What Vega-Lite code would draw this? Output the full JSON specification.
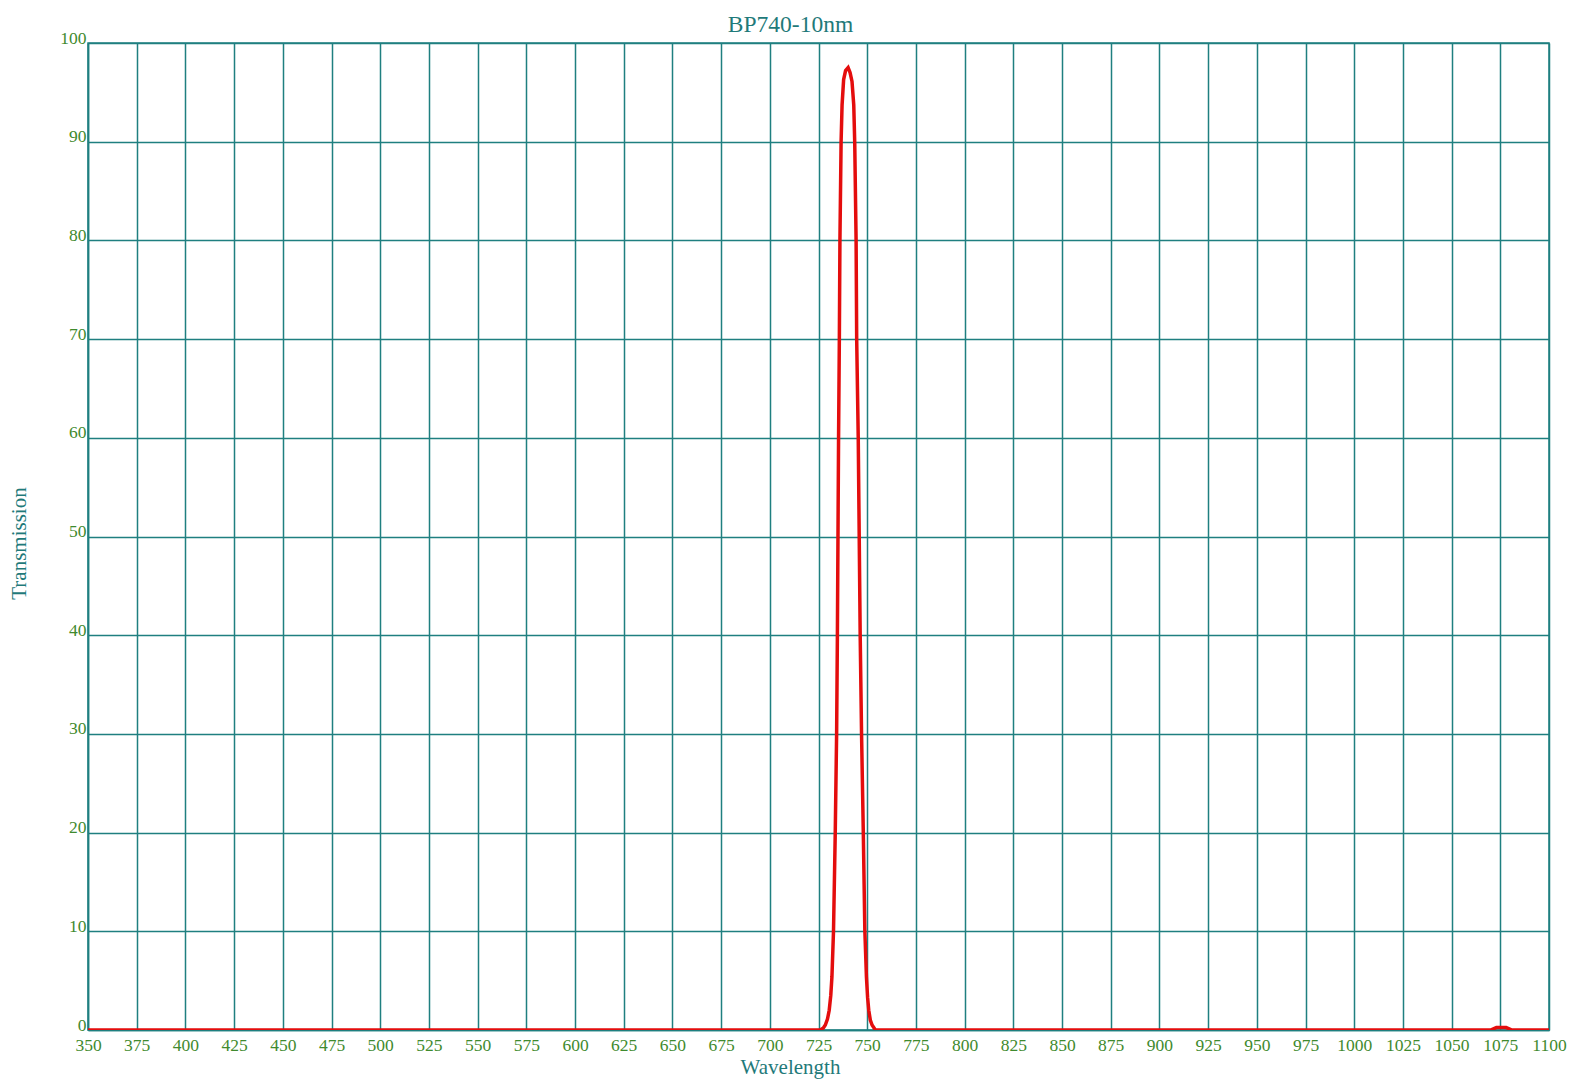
{
  "$schema": "https://vega.github.io/schema/vega-lite/v6.json",
  "width": 1461,
  "height": 987,
  "autosize": {"type": "none"},
  "padding": {"left": 88, "top": 43, "right": 35, "bottom": 58},
  "background": "white",
  "config": {
    "font": "Liberation Serif",
    "view": {"stroke": "#1f7f80", "strokeWidth": 1.5}
  },
  "title": {
    "text": "BP740-10nm",
    "fontSize": 23.5,
    "fontWeight": "normal",
    "color": "#1f7a7a",
    "font": "Liberation Serif",
    "dx": -28,
    "offset": -7
  },
  "data": {
    "values": [
      {"wl": 350, "t": 0}, {"wl": 375, "t": 0}, {"wl": 400, "t": 0}, {"wl": 425, "t": 0},
      {"wl": 450, "t": 0}, {"wl": 475, "t": 0}, {"wl": 500, "t": 0}, {"wl": 525, "t": 0},
      {"wl": 550, "t": 0}, {"wl": 575, "t": 0}, {"wl": 600, "t": 0}, {"wl": 625, "t": 0},
      {"wl": 650, "t": 0}, {"wl": 675, "t": 0}, {"wl": 700, "t": 0}, {"wl": 720, "t": 0},
      {"wl": 725.9, "t": 0}, {"wl": 727.5, "t": 0.2}, {"wl": 728.5, "t": 0.5}, {"wl": 729.6, "t": 1.1},
      {"wl": 730.5, "t": 2}, {"wl": 731.3, "t": 3.5}, {"wl": 731.9, "t": 5.4}, {"wl": 732.7, "t": 10},
      {"wl": 733.6, "t": 20}, {"wl": 734.3, "t": 30}, {"wl": 734.7, "t": 40}, {"wl": 735.0, "t": 50},
      {"wl": 735.3, "t": 60}, {"wl": 735.7, "t": 70}, {"wl": 736.0, "t": 80}, {"wl": 736.6, "t": 90},
      {"wl": 737.1, "t": 93.7}, {"wl": 737.9, "t": 96.3}, {"wl": 738.9, "t": 97.2}, {"wl": 740.2, "t": 97.5},
      {"wl": 741.2, "t": 97.0}, {"wl": 742.2, "t": 96.1}, {"wl": 743.1, "t": 93.7}, {"wl": 743.6, "t": 89.9},
      {"wl": 744.3, "t": 80}, {"wl": 744.6, "t": 70}, {"wl": 745.4, "t": 60}, {"wl": 745.9, "t": 50},
      {"wl": 746.4, "t": 40}, {"wl": 747.1, "t": 30}, {"wl": 748.0, "t": 20}, {"wl": 748.8, "t": 10},
      {"wl": 749.6, "t": 5.4}, {"wl": 750.2, "t": 3.3}, {"wl": 750.8, "t": 2}, {"wl": 751.6, "t": 1.0},
      {"wl": 752.5, "t": 0.5}, {"wl": 754.2, "t": 0}, {"wl": 760, "t": 0}, {"wl": 775, "t": 0},
      {"wl": 800, "t": 0}, {"wl": 825, "t": 0}, {"wl": 850, "t": 0}, {"wl": 875, "t": 0},
      {"wl": 900, "t": 0}, {"wl": 925, "t": 0}, {"wl": 950, "t": 0}, {"wl": 975, "t": 0},
      {"wl": 1000, "t": 0}, {"wl": 1025, "t": 0}, {"wl": 1050, "t": 0}, {"wl": 1070, "t": 0},
      {"wl": 1073, "t": 0.25}, {"wl": 1078, "t": 0.25}, {"wl": 1081, "t": 0}, {"wl": 1100, "t": 0}
    ]
  },
  "mark": {"type": "line", "color": "#e40d0d", "strokeWidth": 3.5, "clip": true},
  "encoding": {
    "x": {
      "field": "wl",
      "type": "quantitative",
      "scale": {"domain": [350, 1100], "nice": false, "zero": false},
      "axis": {
        "title": "Wavelength",
        "values": [350, 375, 400, 425, 450, 475, 500, 525, 550, 575, 600, 625, 650, 675, 700, 725, 750, 775, 800, 825, 850, 875, 900, 925, 950, 975, 1000, 1025, 1050, 1075, 1100],
        "format": "d",
        "grid": true,
        "gridColor": "#1f7f80",
        "gridWidth": 1.5,
        "gridOpacity": 1,
        "domain": true,
        "domainColor": "#1f7f80",
        "domainWidth": 1.5,
        "ticks": false,
        "labelFont": "Liberation Serif",
        "labelFontSize": 17.5,
        "labelColor": "#3f8a2e",
        "labelPadding": 6,
        "labelOverlap": false,
        "labelFlush": false,
        "titleFont": "Liberation Serif",
        "titleFontSize": 21,
        "titleFontWeight": "normal",
        "titleColor": "#1f7a7a",
        "titlePadding": 3,
        "titleX": 702
      }
    },
    "y": {
      "field": "t",
      "type": "quantitative",
      "scale": {"domain": [0, 100], "nice": false},
      "axis": {
        "title": "Transmission",
        "values": [0, 10, 20, 30, 40, 50, 60, 70, 80, 90, 100],
        "format": "d",
        "grid": true,
        "gridColor": "#1f7f80",
        "gridWidth": 1.5,
        "gridOpacity": 1,
        "domain": true,
        "domainColor": "#1f7f80",
        "domainWidth": 1.5,
        "ticks": false,
        "labelFont": "Liberation Serif",
        "labelFontSize": 17.5,
        "labelColor": "#3f8a2e",
        "labelPadding": 2,
        "labelBaseline": "alphabetic",
        "labelFlush": false,
        "labelOverlap": false,
        "titleFont": "Liberation Serif",
        "titleFontSize": 21,
        "titleFontWeight": "normal",
        "titleColor": "#1f7a7a",
        "titlePadding": 30,
        "titleY": 500
      }
    }
  }
}
